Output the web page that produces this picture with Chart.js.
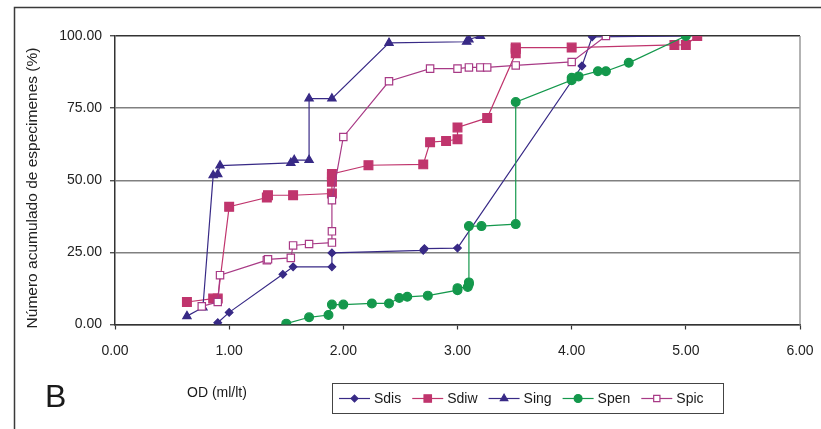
<!DOCTYPE html>
<html>
<head>
<meta charset="utf-8">
<script src="https://cdn.jsdelivr.net/npm/chart.js@4.4.1/dist/chart.umd.min.js"></script>
<style>
  html, body { margin: 0; padding: 0; background: #fff; }
  #wrap { position: relative; width: 821px; height: 429px; }
</style>
</head>
<body>
<div id="wrap"><canvas id="odChart"></canvas></div>
<script>
// OD (ml/lt) vs cumulative % of specimens, one pair of arrays per group
const sdisOD  = [0.90, 1.00, 1.47, 1.56, 1.90, 1.90, 2.70, 2.71, 3.00, 4.09, 4.18, 5.00];
const sdisPct = [0.6, 4.2, 17.4, 20.0, 20.0, 24.8, 25.7, 26.3, 26.5, 89.6, 99.7, 100];

const sdiwOD  = [0.63, 0.86, 0.90, 1.00, 1.33, 1.34, 1.56, 1.90, 1.90, 1.90, 1.90, 2.22, 2.70, 2.76, 2.90, 3.00, 3.00, 3.26, 3.51, 3.51, 3.51, 4.00, 4.90, 5.00, 5.10];
const sdiwPct = [7.8, 9.0, 9.0, 40.8, 44.0, 44.8, 44.8, 45.4, 49.5, 51.2, 52.2, 55.2, 55.5, 63.2, 63.6, 64.2, 68.3, 71.6, 94.0, 95.5, 96.0, 96.0, 96.9, 96.9, 100];

const singOD  = [0.63, 0.77, 0.86, 0.90, 0.92, 1.54, 1.57, 1.70, 1.70, 1.90, 2.40, 3.08, 3.10, 3.20];
const singPct = [2.9, 5.9, 51.7, 52.1, 55.1, 56.0, 57.0, 57.0, 78.3, 78.3, 97.6, 98.0, 98.8, 100];

const spenOD  = [1.50, 1.70, 1.87, 1.90, 2.00, 2.25, 2.40, 2.49, 2.56, 2.74, 3.00, 3.00, 3.09, 3.10, 3.10, 3.10, 3.21, 3.51, 3.51, 4.00, 4.00, 4.06, 4.23, 4.30, 4.50, 5.00];
const spenPct = [0.3, 2.5, 3.3, 6.9, 6.9, 7.3, 7.3, 9.2, 9.6, 10.0, 11.9, 12.6, 13.0, 14.0, 14.6, 34.1, 34.1, 34.8, 77.1, 84.7, 85.5, 86.0, 87.8, 87.8, 90.7, 100];

const spicOD  = [0.76, 0.90, 0.92, 1.33, 1.34, 1.54, 1.56, 1.70, 1.90, 1.90, 1.90, 2.00, 2.40, 2.76, 3.00, 3.10, 3.20, 3.26, 3.51, 4.00, 4.30];
const spicPct = [6.3, 7.8, 17.1, 22.3, 22.6, 23.1, 27.4, 27.9, 28.4, 32.3, 43.1, 65.0, 84.3, 88.7, 88.7, 89.1, 89.1, 89.1, 89.8, 91.0, 100];

const xTicks = [0, 1, 2, 3, 4, 5, 6];
const yTicks = [0, 25, 50, 75, 100];

const NAVY = "#382a86";
const ROSE = "#c0356d";
const GREEN = "#14984c";
const PLUM = "#a83a86";
const FONT = "'Liberation Sans', Arial, sans-serif";

const toPoints = (xs, ys) => xs.map((x, i) => ({ x, y: ys[i] }));

const series = [
  { label: "Sdis", data: toPoints(sdisOD, sdisPct), color: NAVY, style: "rectRot", radius: 3.8, fill: NAVY, order: 5 },
  { label: "Sdiw", data: toPoints(sdiwOD, sdiwPct), color: ROSE, style: "rect", radius: 6.2, fill: ROSE, order: 4 },
  { label: "Sing", data: toPoints(singOD, singPct), color: NAVY, style: "triangle", radius: 4.8, fill: NAVY, order: 3 },
  { label: "Spen", data: toPoints(spenOD, spenPct), color: GREEN, style: "circle", radius: 4.4, fill: GREEN, order: 2 },
  { label: "Spic", data: toPoints(spicOD, spicPct), color: PLUM, style: "rect", radius: 5.2, fill: "#ffffff", order: 1 },
];

// frame, right border, y caption, panel letter, x caption and the boxed legend
const extras = {
  id: "extras",
  afterDraw(chart) {
    const { ctx, chartArea } = chart;
    ctx.save();

    ctx.strokeStyle = "#3a3a3a";
    ctx.lineWidth = 1.5;
    ctx.strokeRect(14.5, 7.5, 900, 600);

    ctx.strokeStyle = "#9a9a9a";
    ctx.beginPath();
    ctx.moveTo(chartArea.right, chartArea.top);
    ctx.lineTo(chartArea.right, chartArea.bottom);
    ctx.stroke();

    ctx.fillStyle = "#222";
    ctx.save();
    ctx.translate(33, 188);
    ctx.rotate(-Math.PI / 2);
    ctx.font = "15.5px " + FONT;
    ctx.textAlign = "center";
    ctx.textBaseline = "middle";
    ctx.fillText("Número acumulado de especimenes (%)", 0, 0);
    ctx.restore();

    ctx.fillStyle = "#1a1a1a";
    ctx.textBaseline = "alphabetic";
    ctx.font = "32px " + FONT;
    ctx.fillText("B", 45, 407);

    ctx.font = "14px " + FONT;
    ctx.textBaseline = "middle";
    ctx.fillText("OD (ml/lt)", 187, 393);

    // legend box
    const box = { x: 332.5, y: 383.5, w: 391, h: 30 };
    ctx.strokeStyle = "#444";
    ctx.lineWidth = 1;
    ctx.fillStyle = "#fff";
    ctx.fillRect(box.x, box.y, box.w, box.h);
    ctx.strokeRect(box.x, box.y, box.w, box.h);

    const cy = box.y + box.h / 2;
    let x = 339;
    series.forEach((s) => {
      ctx.strokeStyle = s.color;
      ctx.lineWidth = 1.2;
      ctx.beginPath();
      ctx.moveTo(x, cy);
      ctx.lineTo(x + 31, cy);
      ctx.stroke();
      ctx.fillStyle = s.fill;
      Chart.helpers.drawPoint(ctx, {
        pointStyle: s.style,
        radius: s.style === "rect" ? s.radius * 0.85 : s.radius * 0.9,
        rotation: 0,
        borderWidth: 1,
      }, x + 15.5, cy);
      ctx.fillStyle = "#1a1a1a";
      ctx.font = "14px " + FONT;
      ctx.textBaseline = "middle";
      ctx.fillText(s.label, x + 35, cy + 1);
      x += 35 + ctx.measureText(s.label).width + 11;
    });

    ctx.restore();
  },
};

new Chart(document.getElementById("odChart"), {
  type: "scatter",
  data: {
    datasets: series.map((s) => ({
      label: s.label,
      data: s.data,
      showLine: true,
      order: s.order,
      borderColor: s.color,
      borderWidth: 1.2,
      pointStyle: s.style,
      pointRadius: s.radius,
      pointBackgroundColor: s.fill,
      pointBorderColor: s.color,
      pointBorderWidth: 1.2,
      pointHoverRadius: s.radius,
    })),
  },
  options: {
    responsive: true,
    maintainAspectRatio: false,
    animation: false,
    layout: { padding: { top: 36, right: 21, bottom: 0, left: 0 } },
    plugins: { legend: { display: false }, tooltip: { enabled: false } },
    scales: {
      x: {
        type: "linear",
        min: 0,
        max: 6,
        afterBuildTicks: (axis) => { axis.ticks = xTicks.map((v) => ({ value: v })); },
        afterFit: (axis) => {
          axis.height = 104.5;
          axis.paddingLeft = 0;
          axis.paddingRight = 0;
        },
        border: { color: "#333", width: 1.5 },
        grid: { drawOnChartArea: false, drawTicks: true, tickLength: 5, tickColor: "#333", tickWidth: 1.2 },
        ticks: {
          padding: 13,
          color: "#222",
          font: { family: FONT, size: 14 },
          maxRotation: 0,
          callback: (v) => Number(v).toFixed(2),
        },
      },
      y: {
        type: "linear",
        min: 0,
        max: 100,
        afterBuildTicks: (axis) => { axis.ticks = yTicks.map((v) => ({ value: v })); },
        afterFit: (axis) => {
          axis.width = 115;
          axis.paddingTop = 0;
          axis.paddingBottom = 0;
        },
        border: { color: "#333", width: 1.5 },
        grid: {
          color: (c) => (c.tick && c.tick.value === 100 ? "#333" : "#808080"),
          lineWidth: 1.5,
          drawTicks: true,
          tickLength: 5,
          tickColor: "#333",
          tickWidth: 1.2,
        },
        ticks: {
          padding: 8,
          color: "#222",
          font: { family: FONT, size: 14 },
          callback: (v) => Number(v).toFixed(2),
        },
      },
    },
  },
  plugins: [extras],
});
</script>
</body>
</html>
